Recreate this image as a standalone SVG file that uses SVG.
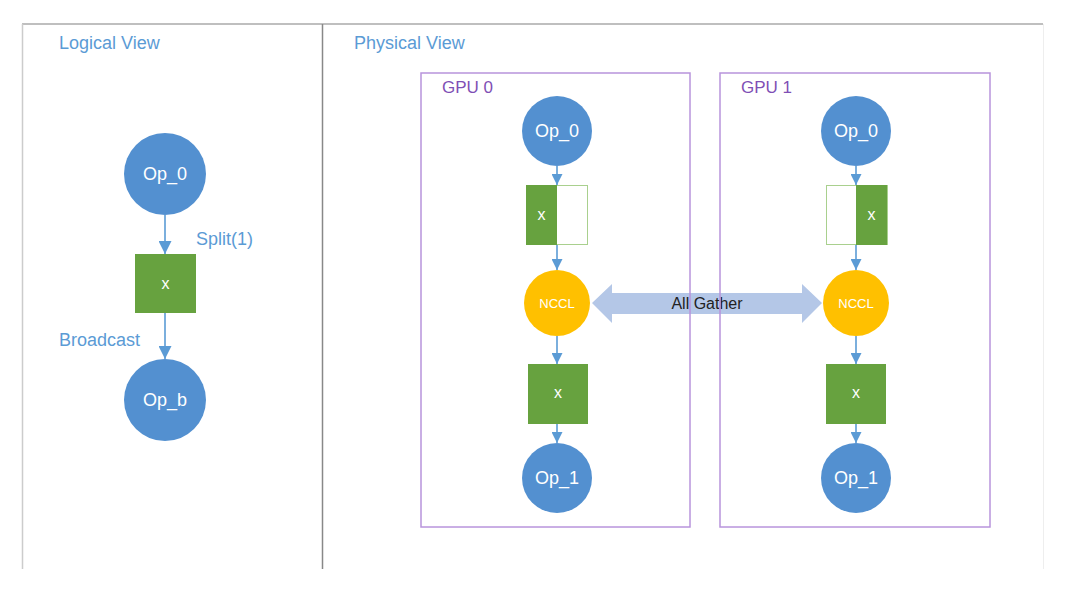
<svg xmlns="http://www.w3.org/2000/svg" width="1066" height="604" viewBox="0 0 1066 604">
<defs>
<marker id="ah" viewBox="0 0 10 10" refX="10" refY="5" markerWidth="11" markerHeight="11" markerUnits="userSpaceOnUse" orient="auto">
<path d="M0,0 L10,5 L0,10 z" fill="#5b9bd5"/>
</marker>
<marker id="ahL" viewBox="0 0 10 10" refX="10" refY="5" markerWidth="13" markerHeight="13" markerUnits="userSpaceOnUse" orient="auto">
<path d="M0,0 L10,5 L0,10 z" fill="#5b9bd5"/>
</marker>
<style>
text{font-family:"Liberation Sans",Arial,sans-serif}
.lbl{fill:#5b9bd5;font-size:18px}
.gpu{fill:#7f4fb5;font-size:17px}
.op{fill:#5390d0}
.opt{fill:#fff;font-size:18px;text-anchor:middle}
.g{fill:#67a23f}
.gw{fill:#fff;stroke:#a9d08e;stroke-width:1}
.xt{fill:#fff;font-size:16px;text-anchor:middle}
.nccl{fill:#ffc000}
.nt{fill:#fff;font-size:13px;text-anchor:middle}
.box{fill:none;stroke:#b894dc;stroke-width:1.5}
.c{stroke:#5b9bd5;stroke-width:1.6;fill:none}
</style>
</defs>
<rect width="1066" height="604" fill="#fff"/>
<g id="frame">
<line x1="22" y1="24" x2="1043" y2="24" stroke="#aaa" stroke-width="1.5"/>
<line x1="22.5" y1="24" x2="22.5" y2="569" stroke="#ccc" stroke-width="1.5"/>
<line x1="322.5" y1="24" x2="322.5" y2="569" stroke="#888" stroke-width="1.5"/>
<line x1="1043.5" y1="24" x2="1043.5" y2="569" stroke="#eee" stroke-width="1"/>
<text class="lbl" x="59" y="49">Logical View</text>
<text class="lbl" x="354" y="49">Physical View</text>
</g>
<g id="allgather">
<path d="M592,303 L612,284 L612,293 L802,293 L802,284 L822,303 L802,323 L802,314 L612,314 L612,323 Z" fill="#b4c7e7"/>
<text x="707" y="309" font-size="16" fill="#222" text-anchor="middle">All Gather</text>
</g>
<g id="gpu0">
<rect class="box" x="421" y="73" width="269" height="454"/>
<text class="gpu" x="442" y="93">GPU 0</text>
</g>
<g id="gpu1">
<rect class="box" x="720" y="73" width="270" height="454"/>
<text class="gpu" x="741" y="93">GPU 1</text>
</g>
<g id="connectors">
<line class="c" x1="165" y1="215" x2="165" y2="254" marker-end="url(#ahL)"/>
<line class="c" x1="165" y1="313" x2="165" y2="359" marker-end="url(#ahL)"/>
<line class="c" x1="557" y1="166" x2="557" y2="185" marker-end="url(#ah)"/>
<line class="c" x1="557" y1="245" x2="557" y2="270" marker-end="url(#ah)"/>
<line class="c" x1="557" y1="336" x2="557" y2="364" marker-end="url(#ah)"/>
<line class="c" x1="557" y1="424" x2="557" y2="443" marker-end="url(#ah)"/>
<line class="c" x1="856" y1="166" x2="856" y2="185" marker-end="url(#ah)"/>
<line class="c" x1="856" y1="245" x2="856" y2="270" marker-end="url(#ah)"/>
<line class="c" x1="856" y1="336" x2="856" y2="364" marker-end="url(#ah)"/>
<line class="c" x1="856" y1="424" x2="856" y2="443" marker-end="url(#ah)"/>
</g>
<g id="l_op0"><circle class="op" cx="165" cy="174" r="41"/><text class="opt" x="165" y="180">Op_0</text></g>
<g id="l_x"><rect class="g" x="135" y="254" width="61" height="59"/><text class="xt" x="165.5" y="289">x</text></g>
<g id="l_opb"><circle class="op" cx="165" cy="400" r="41"/><text class="opt" x="165" y="406">Op_b</text></g>
<text class="lbl" x="196" y="245">Split(1)</text>
<text class="lbl" x="59" y="346">Broadcast</text>
<g id="g0_op0"><circle class="op" cx="557" cy="131" r="35"/><text class="opt" x="557" y="137">Op_0</text></g>
<g id="g0_split"><rect class="gw" x="526.5" y="185.5" width="61" height="59"/><rect class="g" x="526" y="185" width="31" height="60"/><text class="xt" x="541.5" y="220">x</text></g>
<g id="g0_nccl"><circle class="nccl" cx="557" cy="303" r="33"/><text class="nt" x="557" y="308">NCCL</text></g>
<g id="g0_x"><rect class="g" x="528" y="364" width="60" height="60"/><text class="xt" x="558" y="398">x</text></g>
<g id="g0_op1"><circle class="op" cx="557" cy="478" r="35"/><text class="opt" x="557" y="484">Op_1</text></g>
<g id="g1_op0"><circle class="op" cx="856" cy="131" r="35"/><text class="opt" x="856" y="137">Op_0</text></g>
<g id="g1_split"><rect class="gw" x="826.5" y="185.5" width="61" height="59"/><rect class="g" x="856" y="185" width="31" height="60"/><text class="xt" x="871.5" y="220">x</text></g>
<g id="g1_nccl"><circle class="nccl" cx="856" cy="303" r="33"/><text class="nt" x="856" y="308">NCCL</text></g>
<g id="g1_x"><rect class="g" x="826" y="364" width="60" height="60"/><text class="xt" x="856" y="398">x</text></g>
<g id="g1_op1"><circle class="op" cx="856" cy="478" r="35"/><text class="opt" x="856" y="484">Op_1</text></g>
</svg>
